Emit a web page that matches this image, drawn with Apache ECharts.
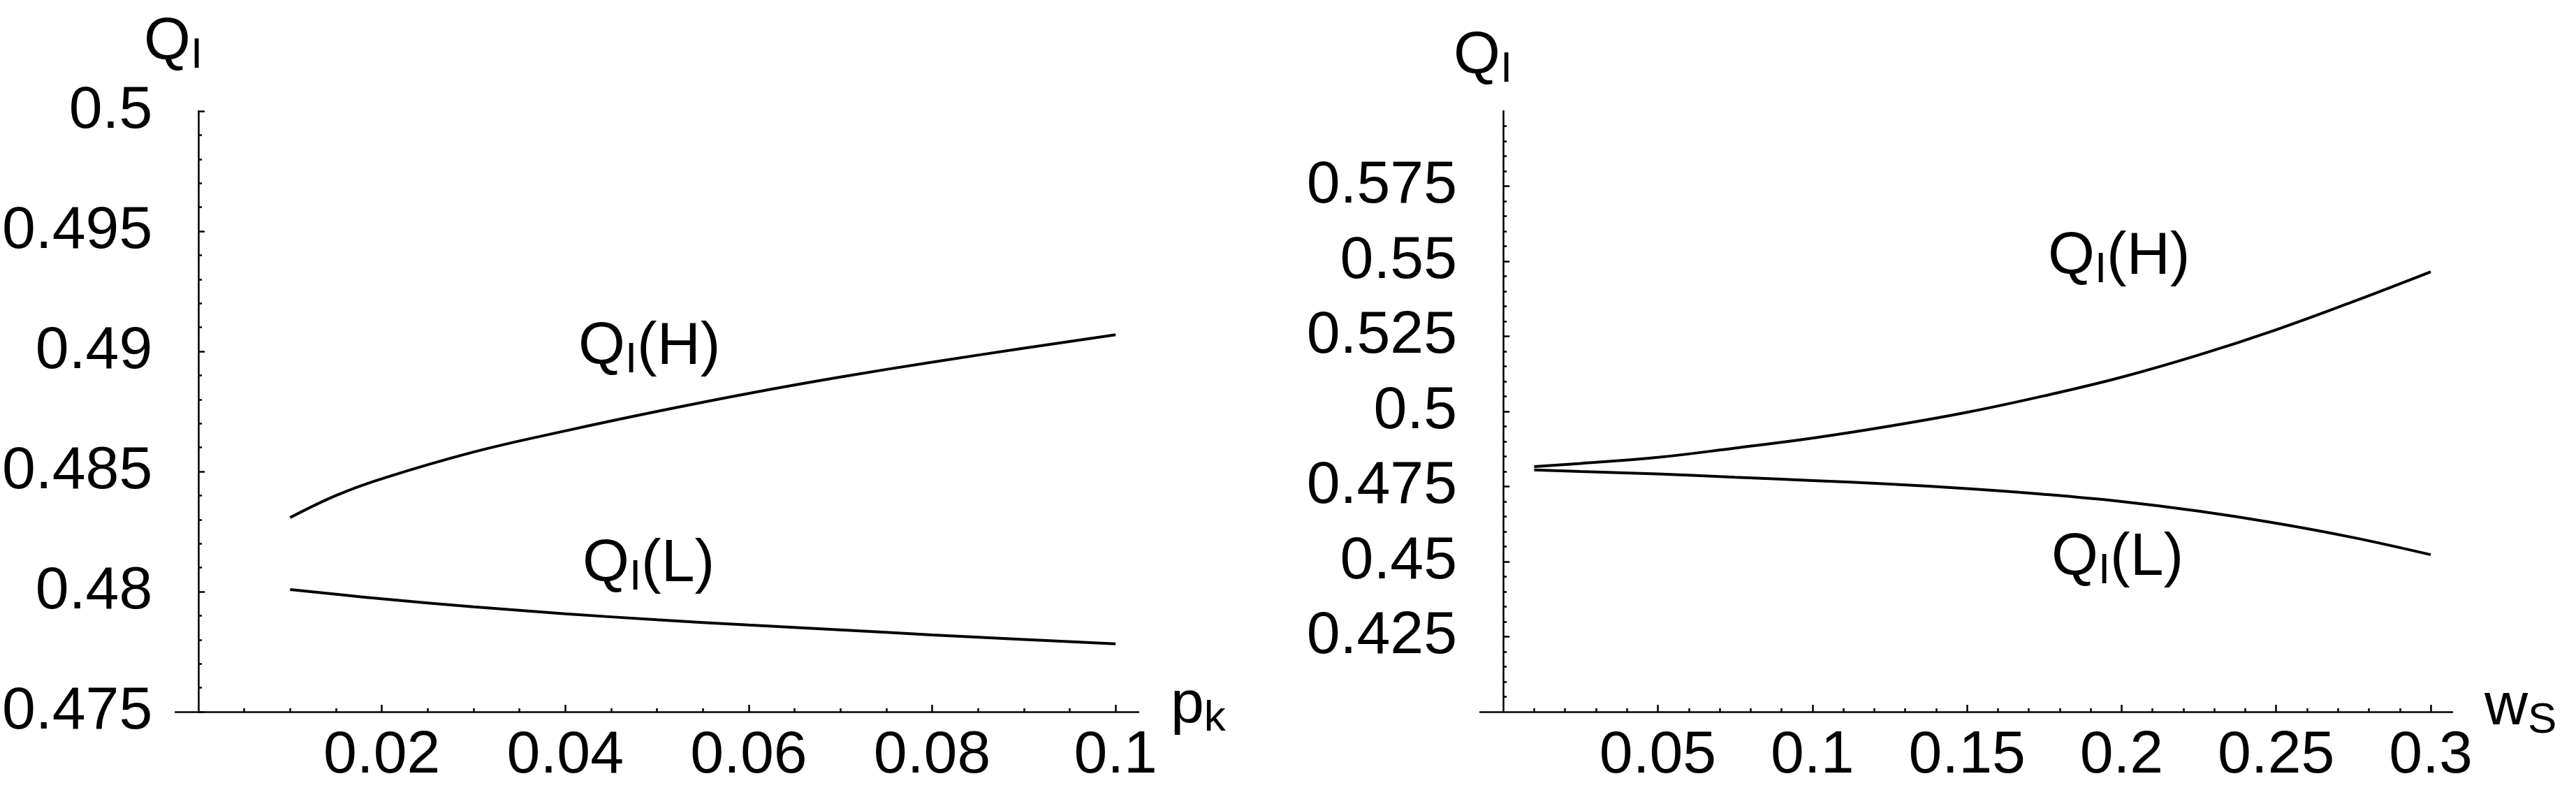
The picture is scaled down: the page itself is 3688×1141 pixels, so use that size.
<!DOCTYPE html>
<html>
<head>
<meta charset="utf-8">
<script src="https://cdn.jsdelivr.net/npm/echarts@6/dist/echarts.min.js"></script>
<style>
html,body{margin:0;padding:0;background:#fff;}
#c{width:3688px;height:1141px;}
</style>
</head>
<body>
<div id="c"></div>
<script>
// ---------- data: left panel (x = p_k) ----------
const leftX  = [0.01, 0.015, 0.02, 0.03, 0.04, 0.05, 0.06, 0.07, 0.08, 0.09, 0.1];
const leftH  = [0.48308, 0.48400, 0.48470, 0.48581, 0.48669, 0.48750, 0.48825, 0.48893, 0.48955, 0.49013, 0.49069];
const leftL  = [0.48009, 0.47989, 0.47970, 0.47937, 0.47908, 0.47883, 0.47861, 0.47841, 0.47820, 0.47801, 0.47783];

// ---------- data: right panel (x = w_S) ----------
const rightX = [0.01, 0.025, 0.05, 0.075, 0.1, 0.125, 0.15, 0.175, 0.2, 0.225, 0.25, 0.275, 0.3];
const rightH = [0.4816, 0.4827, 0.4847, 0.4878, 0.4911, 0.4951, 0.4997, 0.5052, 0.5114, 0.5188, 0.5272, 0.5366, 0.5465];
const rightL = [0.4805, 0.4800, 0.4792, 0.4781, 0.4770, 0.4758, 0.4743, 0.4724, 0.4700, 0.4668, 0.4628, 0.4580, 0.4523];

// ---------- ticks ----------
const leftXMajor  = [0.02, 0.04, 0.06, 0.08, 0.1];
const leftXMinor  = [0.005, 0.01, 0.015, 0.025, 0.03, 0.035, 0.045, 0.05, 0.055, 0.065, 0.07, 0.075, 0.085, 0.09, 0.095];
const leftYMajor  = [0.475, 0.48, 0.485, 0.49, 0.495, 0.5];
const leftYMinor  = [0.476, 0.477, 0.478, 0.479, 0.481, 0.482, 0.483, 0.484, 0.486, 0.487, 0.488, 0.489,
                     0.491, 0.492, 0.493, 0.494, 0.496, 0.497, 0.498, 0.499];
const rightXMajor = [0.05, 0.1, 0.15, 0.2, 0.25, 0.3];
const rightXMinor = [0.01, 0.02, 0.03, 0.04, 0.06, 0.07, 0.08, 0.09, 0.11, 0.12, 0.13, 0.14, 0.16, 0.17, 0.18, 0.19,
                     0.21, 0.22, 0.23, 0.24, 0.26, 0.27, 0.28, 0.29];
const rightYMajor = [0.425, 0.45, 0.475, 0.5, 0.525, 0.55, 0.575];
const rightYMinor = [0.405, 0.41, 0.415, 0.42, 0.43, 0.435, 0.44, 0.445, 0.455, 0.46, 0.465, 0.47,
                     0.48, 0.485, 0.49, 0.495, 0.505, 0.51, 0.515, 0.52, 0.53, 0.535, 0.54, 0.545,
                     0.555, 0.56, 0.565, 0.57, 0.58, 0.585, 0.59, 0.595];

const FONT = 'Liberation Sans, Arial, Helvetica, sans-serif';
const AX = {color: '#000', width: 2.5};

function xAxes(grid, min, max, major, minor) {
  return [
    {type: 'value', gridIndex: grid, min: min, max: max, position: 'bottom',
     splitLine: {show: false},
     axisLine: {show: true, onZero: false, lineStyle: AX},
     axisTick: {show: true, inside: true, length: 10, customValues: major, lineStyle: AX},
     axisLabel: {show: true, customValues: major, margin: 20, color: '#000', fontSize: 86, fontFamily: FONT,
                 formatter: v => String(+v.toFixed(4))}},
    {type: 'value', gridIndex: grid, min: min, max: max, position: 'bottom',
     splitLine: {show: false},
     axisLine: {show: false, onZero: false},
     axisTick: {show: true, inside: true, length: 5, customValues: minor, lineStyle: AX},
     axisLabel: {show: false}}
  ];
}
function yAxes(grid, xIdx, min, max, major, labels, minor) {
  return [
    {type: 'value', gridIndex: grid, min: min, max: max, position: 'left',
     splitLine: {show: false},
     axisLine: {show: true, onZero: true, onZeroAxisIndex: xIdx, lineStyle: AX},
     axisTick: {show: true, inside: true, length: 9, customValues: major, lineStyle: AX},
     axisLabel: {show: true, customValues: labels, margin: 33, color: '#000', fontSize: 86, fontFamily: FONT,
                 padding: [0, 0, 12, 0], formatter: v => String(+v.toFixed(4))}},
    {type: 'value', gridIndex: grid, min: min, max: max, position: 'left',
     splitLine: {show: false},
     axisLine: {show: false, onZero: true, onZeroAxisIndex: xIdx},
     axisTick: {show: true, inside: true, length: 5, customValues: minor, lineStyle: AX},
     axisLabel: {show: false}}
  ];
}

const RICH = {
  q: {fontSize: 86, lineHeight: 100, fontFamily: FONT, color: '#000'},
  s: {fontSize: 62, lineHeight: 50, verticalAlign: 'bottom', fontFamily: FONT, color: '#000'}
};
function label(text, left, top) {
  return {text: text, left: left, top: top, padding: 0,
          textStyle: {fontFamily: FONT, color: '#000', fontWeight: 'normal', rich: RICH}};
}

function pairs(xs, ys) { return xs.map((x, i) => [x, ys[i]]); }
function line(name, xs, ys, xi, yi) {
  return {type: 'line', name: name, xAxisIndex: xi, yAxisIndex: yi, data: pairs(xs, ys),
          showSymbol: false, smooth: 0.4, silent: true,
          lineStyle: {color: '#000', width: 4}};
}

const option = {
  animation: false,
  backgroundColor: '#fff',
  grid: [
    {left: 238, top: 159, width: 1392, height: 860},
    {left: 2119, top: 159, width: 1392, height: 860}
  ],
  xAxis: [].concat(
    xAxes(0, -0.0025, 0.1025, leftXMajor, leftXMinor),
    xAxes(1, -0.0075, 0.307, rightXMajor, rightXMinor)
  ),
  yAxis: [].concat(
    yAxes(0, 0, 0.475, 0.5, leftYMajor, leftYMajor, leftYMinor),
    yAxes(1, 2, 0.4, 0.6, rightYMajor, rightYMajor, rightYMinor)
  ),
  title: [
    label('{q|Q}{s|I}', 206, 11),
    label('{q|Q}{s|I}', 2081, 31),
    label('{q|Q}{s|I}{q|(H)}', 828, 447),
    label('{q|Q}{s|I}{q|(L)}', 834, 758),
    label('{q|Q}{s|I}{q|(H)}', 2932, 318),
    label('{q|Q}{s|I}{q|(L)}', 2937, 749),
    label('{q|p}{s|k}', 1676, 960),
    label('{q|w}{s|S}', 3557, 963)
  ],
  series: [
    line('QI(H) vs pk', leftX, leftH, 0, 0),
    line('QI(L) vs pk', leftX, leftL, 0, 0),
    line('QI(H) vs wS', rightX, rightH, 2, 2),
    line('QI(L) vs wS', rightX, rightL, 2, 2)
  ]
};

const chart = echarts.init(document.getElementById('c'), null, {renderer: 'canvas'});
chart.setOption(option);
</script>
</body>
</html>
